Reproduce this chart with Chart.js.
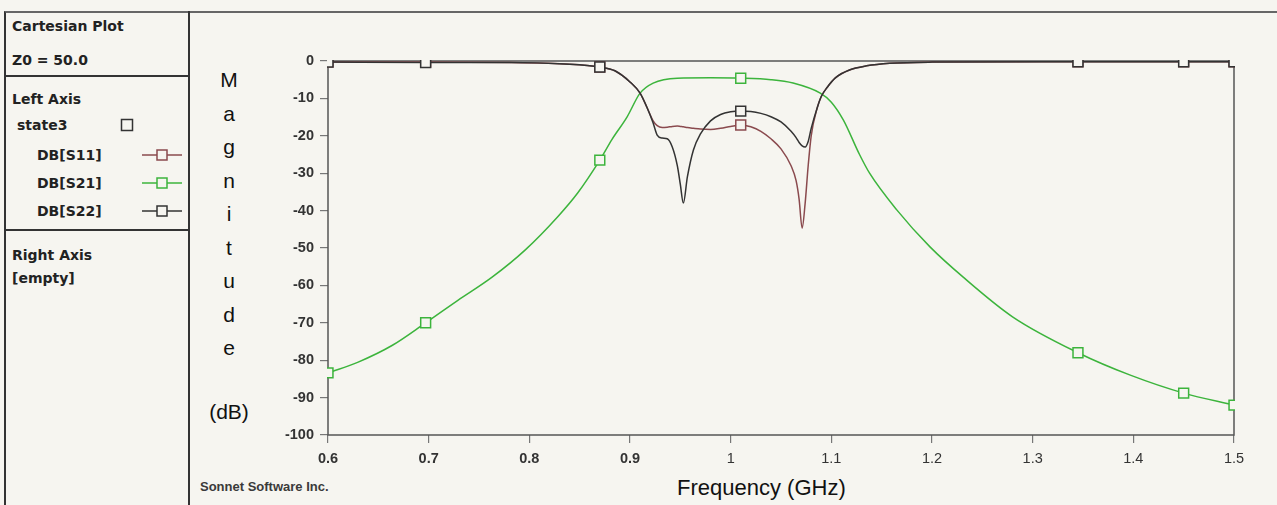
<!DOCTYPE html>
<html>
<head>
<meta charset="utf-8">
<script src="https://cdn.jsdelivr.net/npm/chart.js@4.4.1/dist/chart.umd.min.js"></script>
<style>
  body { margin: 0; width: 1277px; height: 505px; overflow: hidden; background: #f6f5f0; position: relative; font-family: "Liberation Sans", Arial, sans-serif; }
  .abs { position: absolute; white-space: nowrap; }
  #frame { position: absolute; left: 4px; top: 11px; width: 1273px; height: 494px; border-left: 2px solid #333; border-top: 2px solid #666; box-sizing: border-box; }
  #panelEdge { position: absolute; left: 188px; top: 11px; width: 2px; height: 494px; background: #333; }
  .sep { position: absolute; left: 4px; width: 185px; height: 2px; background: #333; }
  .pt { position: absolute; font-family: "DejaVu Sans", sans-serif; font-weight: bold; font-size: 14px; line-height: 16px; color: #222; white-space: nowrap; }
  #mag { position: absolute; left: 209px; top: 63px; width: 40px; text-align: center; font-size: 21px; line-height: 33.5px; color: #111; }
  #chartBox { position: absolute; left: 190px; top: 12px; width: 1087px; height: 493px; }
</style>
</head>
<body>
<div id="frame"></div>
<div id="panelEdge"></div>
<div class="sep" style="top:75px"></div>
<div class="sep" style="top:229px"></div>

<div class="pt" style="left:12px;top:18px">Cartesian Plot</div>
<div class="pt" style="left:12px;top:52px">Z0 = 50.0</div>
<div class="pt" style="left:12px;top:91px">Left Axis</div>
<div class="pt" style="left:17px;top:117px">state3</div>
<div class="pt" style="left:37px;top:147px">DB[S11]</div>
<div class="pt" style="left:37px;top:175px">DB[S21]</div>
<div class="pt" style="left:37px;top:203px">DB[S22]</div>
<div class="pt" style="left:12px;top:247px">Right Axis</div>
<div class="pt" style="left:12px;top:270px">[empty]</div>

<svg class="abs" style="left:0;top:0" width="190" height="240">
  <rect x="121.5" y="119.5" width="11" height="11" fill="none" stroke="#333" stroke-width="1.5"/>
  <g fill="#f6f5f0" stroke-width="1.5">
    <line x1="142" y1="155" x2="182" y2="155" stroke="#8a4a4e"/>
    <rect x="157" y="150" width="10" height="10" stroke="#8a4a4e"/>
    <line x1="142" y1="183" x2="182" y2="183" stroke="#3cb43c"/>
    <rect x="157" y="178" width="10" height="10" stroke="#3cb43c"/>
    <line x1="142" y1="211" x2="182" y2="211" stroke="#333"/>
    <rect x="157" y="206" width="10" height="10" stroke="#333"/>
  </g>
</svg>

<div id="mag">M<br>a<br>g<br>n<br>i<br>t<br>u<br>d<br>e</div>
<div class="abs" style="left:209px;top:399px;width:40px;text-align:center;font-size:21px;line-height:26px;color:#111">(dB)</div>
<div class="abs" style="left:677px;top:475px;font-size:22px;line-height:26px;color:#111">Frequency (GHz)</div>
<div class="abs" style="left:200px;top:479px;font-size:13px;font-weight:bold;line-height:16px;color:#3a3a3a">Sonnet Software Inc.</div>

<div id="chartBox"><canvas id="plot"></canvas></div>

<script>
// frequencies where the Sonnet markers sit
var markerFreq = [0.6, 0.697, 0.87, 1.01, 1.345, 1.45, 1.5];

// DB[S21]
var s21Freq = [0.6, 0.63, 0.664, 0.697, 0.729, 0.763, 0.796, 0.828, 0.848, 0.87, 0.882, 0.897, 0.91, 0.923, 0.947, 0.98, 1.01, 1.04, 1.062, 1.089, 1.1, 1.112, 1.128, 1.138, 1.165, 1.198, 1.231, 1.28, 1.345, 1.397, 1.45, 1.5];
var s21Db = [-83.4, -80.5, -76, -70, -64, -57.8, -50.5, -41.7, -35.3, -26.5, -21, -15, -8.6, -5.9, -4.6, -4.5, -4.6, -5.0, -5.9, -8.6, -11, -15.8, -25, -30, -39.8, -49.7, -57.8, -68.4, -78, -84, -88.8, -92];

// DB[S11] and DB[S22] share one frequency list
var sFreq = [0.6, 0.697, 0.78, 0.835, 0.87, 0.885, 0.9, 0.91, 0.917, 0.923, 0.927, 0.932, 0.937, 0.942, 0.947, 0.95, 0.953, 0.957, 0.963, 0.97, 0.98, 0.99, 1.0, 1.01, 1.02, 1.03, 1.04, 1.05, 1.06, 1.065, 1.068, 1.071, 1.074, 1.077, 1.08, 1.086, 1.09, 1.096, 1.104, 1.118, 1.135, 1.158, 1.2, 1.345, 1.45, 1.5];
var s11Db = [-0.3, -0.3, -0.4, -0.8, -1.6, -2.6, -5.6, -8.6, -12.5, -16, -17.3, -17.8, -17.7, -17.5, -17.4, -17.5, -17.6, -17.8, -18, -18.2, -18.3, -18, -17.5, -17.1, -17.6, -18.8, -20.8, -23.5, -28, -32, -37, -44.7, -38, -28, -20, -12.5, -9.5, -7, -4.5, -2.4, -1.3, -0.6, -0.3, -0.2, -0.2, -0.2];
var s22Db = [-0.3, -0.4, -0.4, -0.8, -1.6, -2.6, -5.6, -8.6, -12.5, -16.6, -19.8, -20.6, -20.8, -23, -28, -33, -38, -31, -23.8, -19.5, -16, -14.3, -13.6, -13.4, -13.5, -14, -14.9, -16.3, -18.8, -20.5, -21.8, -22.7, -23, -21.5, -18, -12.5, -9.5, -7, -4.5, -2.4, -1.3, -0.6, -0.3, -0.2, -0.2, -0.2];

var xTicks = [0.6, 0.7, 0.8, 0.9, 1, 1.1, 1.2, 1.3, 1.4, 1.5];

var bg = '#f6f5f0';

function toPoints(xs, ys) {
  return xs.map(function (x, i) { return { x: x, y: ys[i] }; });
}

function markerRadius(ctx) {
  var p = ctx.raw;
  if (!p) return 0;
  return markerFreq.some(function (f) { return Math.abs(f - p.x) < 1e-6; }) ? 7 : 0;
}

function series(label, xs, ys, color) {
  return {
    label: label,
    data: toPoints(xs, ys),
    borderColor: color,
    backgroundColor: bg,
    borderWidth: 1.5,
    pointStyle: 'rect',
    pointRadius: markerRadius,
    pointHoverRadius: markerRadius,
    pointBorderWidth: 1.5,
    pointBorderColor: color,
    pointBackgroundColor: bg,
    showLine: true,
    cubicInterpolationMode: 'monotone',
    clip: 1
  };
}

// box around the plot area
var frameBox = {
  id: 'frameBox',
  beforeDatasetsDraw: function (chart) {
    var a = chart.chartArea, c = chart.ctx;
    c.save();
    c.strokeStyle = '#555';
    c.lineWidth = 1.5;
    c.strokeRect(a.left, a.top, a.right - a.left, a.bottom - a.top);
    c.restore();
  }
};

new Chart(document.getElementById('plot'), {
  type: 'scatter',
  data: {
    datasets: [
      series('DB[S22]', sFreq, s22Db, '#333333'),
      series('DB[S11]', sFreq, s11Db, '#8a4a4e'),
      series('DB[S21]', s21Freq, s21Db, '#3cb43c')
    ]
  },
  options: {
    responsive: true,
    maintainAspectRatio: false,
    animation: false,
    layout: { padding: { top: 49, right: 43, left: 0, bottom: 0 } },
    plugins: { legend: { display: false }, tooltip: { enabled: false } },
    scales: {
      x: {
        type: 'linear',
        min: 0.6,
        max: 1.5,
        afterFit: function (s) { s.height = 70; },
        afterBuildTicks: function (s) { s.ticks = xTicks.map(function (v) { return { value: v }; }); },
        border: { display: false },
        grid: { drawOnChartArea: false, drawTicks: true, tickLength: 8, color: '#777', lineWidth: 1.2 },
        ticks: {
          padding: 7,
          color: '#333',
          maxRotation: 0,
          autoSkip: false,
          font: function (ctx) {
            var v = ctx.tick ? ctx.tick.value : 0;
            return { family: 'Liberation Sans', size: 14.5, weight: v < 0.95 ? 'bold' : 'normal' };
          },
          callback: function (v) { return String(Number(v.toFixed(1))); }
        }
      },
      y: {
        min: -100,
        max: 0,
        afterFit: function (s) { s.width = 138; },
        border: { display: false },
        grid: { drawOnChartArea: false, drawTicks: true, tickLength: 8, color: '#777', lineWidth: 1.2 },
        ticks: {
          stepSize: 10,
          padding: 6,
          color: '#333',
          font: { family: 'Liberation Sans', size: 14.5, weight: 'bold' }
        }
      }
    }
  },
  plugins: [frameBox]
});
</script>
</body>
</html>
